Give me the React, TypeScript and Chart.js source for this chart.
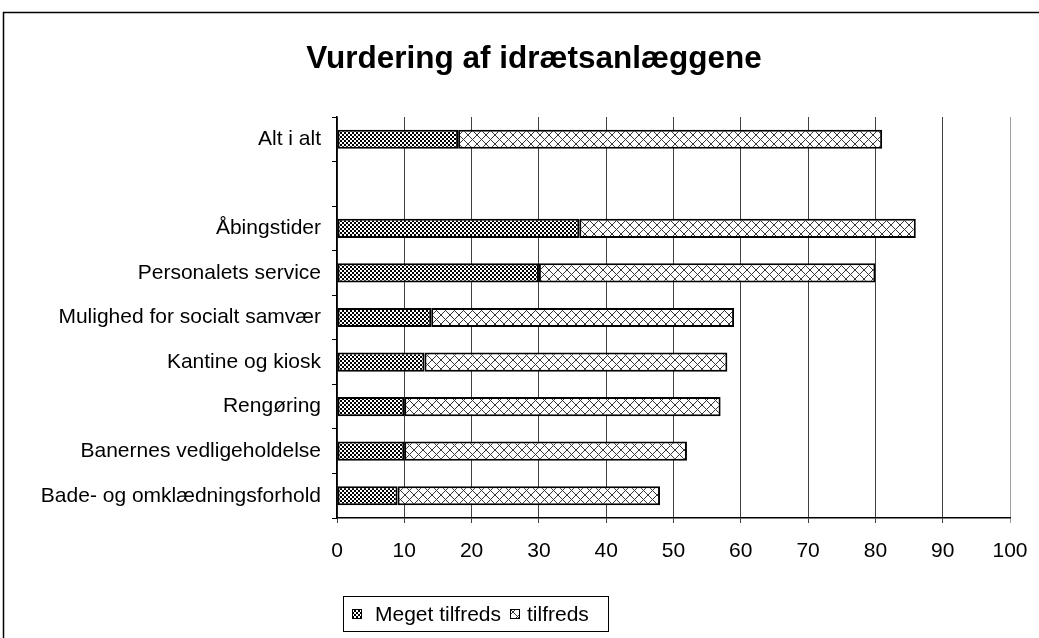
import React, { useEffect, useRef } from 'react';
import { Chart, registerables } from 'chart.js';

Chart.register(...registerables);

const chartTitle = 'Vurdering af idrætsanlæggene';
const categories = [
  'Alt i alt',
  '',
  'Åbingstider',
  'Personalets service',
  'Mulighed for socialt samvær',
  'Kantine og kiosk',
  'Rengøring',
  'Banernes vedligeholdelse',
  'Bade- og omklædningsforhold',
];
const seriesNames = ['Meget tilfreds', 'tilfreds'];
const megetTilfreds = [18, null, 36, 30, 14, 13, 10, 10, 9];
const tilfreds = [63, null, 50, 50, 45, 45, 47, 42, 39];
const xMin = 0;
const xMax = 100;
const xStep = 10;

const FONT = "'Liberation Sans', Arial, Helvetica, sans-serif";

function makeChecker(): CanvasPattern | string {
  const c = document.createElement('canvas');
  c.width = 4;
  c.height = 4;
  const g = c.getContext('2d');
  if (!g) return '#333';
  g.fillStyle = '#ffffff';
  g.fillRect(0, 0, 4, 4);
  g.fillStyle = '#000000';
  g.fillRect(0, 0, 2, 2);
  g.fillRect(2, 2, 2, 2);
  return g.createPattern(c, 'repeat') || '#333';
}

function makeCross(): CanvasPattern | string {
  const s = 9;
  const c = document.createElement('canvas');
  c.width = s;
  c.height = s;
  const g = c.getContext('2d');
  if (!g) return '#ccc';
  g.fillStyle = '#ffffff';
  g.fillRect(0, 0, s, s);
  g.strokeStyle = '#383838';
  g.lineWidth = 1;
  g.beginPath();
  g.moveTo(-1, -1);
  g.lineTo(s + 1, s + 1);
  g.moveTo(s + 1, -1);
  g.lineTo(-1, s + 1);
  g.stroke();
  return g.createPattern(c, 'repeat') || '#ccc';
}

export default function App() {
  const ref = useRef<HTMLCanvasElement | null>(null);

  useEffect(() => {
    if (!ref.current) return;
    const checker = makeChecker();
    const cross = makeCross();

    const decor = {
      id: 'decor',
      beforeDraw(chart: any) {
        const ctx = chart.ctx;
        ctx.save();
        ctx.fillStyle = '#ffffff';
        ctx.fillRect(0, 0, chart.width, chart.height);
        ctx.restore();
      },
      afterDraw(chart: any) {
        const ctx = chart.ctx;
        ctx.save();
        // frame
        ctx.strokeStyle = '#000';
        ctx.lineWidth = 1.5;
        ctx.strokeRect(3.5, 12.5, 1200, 800);
        // title
        ctx.fillStyle = '#000';
        ctx.font = `bold 31.5px ${FONT}`;
        ctx.textAlign = 'center';
        ctx.textBaseline = 'alphabetic';
        ctx.fillText(chartTitle, 534, 68);
        // legend
        ctx.strokeStyle = '#000';
        ctx.lineWidth = 1;
        ctx.strokeRect(343.5, 596.5, 265, 35);
        ctx.font = `21px ${FONT}`;
        ctx.textAlign = 'left';
        ctx.textBaseline = 'middle';
        const items = [
          { x: 352, fill: checker, text: seriesNames[0], tx: 375 },
          { x: 510, fill: cross, text: seriesNames[1], tx: 527 },
        ];
        items.forEach((it) => {
          ctx.fillStyle = it.fill as any;
          ctx.fillRect(it.x, 609, 10, 10);
          ctx.strokeStyle = '#000';
          ctx.strokeRect(it.x + 0.5, 609.5, 9, 9);
          ctx.fillStyle = '#000';
          ctx.fillText(it.text, it.tx, 615);
        });
        ctx.restore();
      },
    };

    const chart = new Chart(ref.current, {
      type: 'bar',
      data: {
        labels: categories,
        datasets: [
          {
            label: seriesNames[0],
            data: megetTilfreds as any,
            backgroundColor: checker as any,
            borderColor: '#000',
            borderWidth: 2,
            borderSkipped: false,
            barPercentage: 0.43,
            categoryPercentage: 1,
          },
          {
            label: seriesNames[1],
            data: tilfreds as any,
            backgroundColor: cross as any,
            borderColor: '#000',
            borderWidth: 2,
            borderSkipped: false,
            barPercentage: 0.43,
            categoryPercentage: 1,
          },
        ],
      },
      options: {
        indexAxis: 'y',
        responsive: false,
        animation: false,
        maintainAspectRatio: false,
        layout: { padding: { left: 0, right: 29, top: 117, bottom: 60 } },
        plugins: {
          legend: { display: false },
          title: { display: false },
          tooltip: { enabled: false },
        },
        scales: {
          x: {
            type: 'linear',
            stacked: true,
            min: xMin,
            max: xMax,
            position: 'bottom',
            ticks: {
              stepSize: xStep,
              color: '#000',
              font: { family: FONT, size: 21 },
              padding: 16,
            },
            grid: {
              color: (c: any) => (c.tick && c.tick.value === xMax ? '#a0a0a0' : '#404040'),
              lineWidth: 1,
              tickLength: 5,
              drawTicks: true,
            },
            border: { color: '#000', width: 1.5 },
            afterFit: (s: any) => {
              s.height = 60;
              s.paddingRight = 0;
              s.paddingLeft = 0;
            },
          },
          y: {
            type: 'category',
            stacked: true,
            offset: true,
            ticks: {
              color: '#000',
              font: { family: FONT, size: 21 },
              padding: 11,
              autoSkip: false,
            },
            grid: {
              offset: true,
              drawOnChartArea: false,
              tickLength: 5,
              color: '#000',
              lineWidth: 1,
            },
            border: { color: '#000', width: 1.5 },
            afterFit: (s: any) => {
              s.width = 337;
              s.paddingTop = 0;
              s.paddingBottom = 0;
            },
          },
        },
      },
      plugins: [decor],
    });
    return () => chart.destroy();
  }, []);

  return (
    <div style={{ position: 'absolute', left: 0, top: 0, width: 1039, height: 638, background: '#fff' }}>
      <canvas ref={ref} width={1039} height={638} style={{ display: 'block' }} />
    </div>
  );
}
